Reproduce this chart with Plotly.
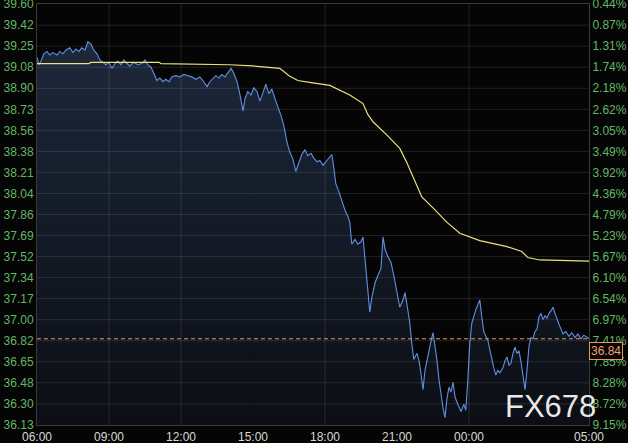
import plotly.graph_objects as go

# ---- data ----
price_times = ["06:00","06:05","06:10","06:17","06:25","06:32","06:40","06:50","06:57","07:05","07:12","07:22","07:30","07:37","07:45","07:52","08:00","08:07","08:15","08:22","08:30","08:37","08:45","08:52","09:00","09:07","09:15","09:22","09:30","09:37","09:45","09:52","10:02","10:12","10:22","10:30","10:37","10:45","10:52","11:00","11:07","11:15","11:22","11:30","11:37","11:47","11:57","12:07","12:17","12:27","12:37","12:47","12:57","13:05","13:12","13:20","13:27","13:35","13:42","13:50","13:57","14:05","14:12","14:20","14:27","14:35","14:40","14:47","14:55","15:02","15:10","15:17","15:25","15:32","15:40","15:47","15:55","16:02","16:10","16:17","16:25","16:32","16:40","16:47","16:55","17:02","17:10","17:17","17:25","17:32","17:40","17:47","17:55","18:02","18:10","18:17","18:22","18:27","18:35","18:42","18:50","18:57","19:02","19:07","19:15","19:22","19:30","19:35","19:42","19:47","19:52","19:57","20:05","20:12","20:20","20:25","20:30","20:37","20:45","20:52","21:00","21:07","21:15","21:20","21:25","21:32","21:37","21:42","21:50","21:55","22:00","22:05","22:10","22:17","22:25","22:30","22:35","22:40","22:45","22:50","22:55","23:00","23:05","23:10","23:15","23:20","23:25","23:32","23:40","23:47","23:52","23:57","00:02","00:07","00:12","00:17","00:22","00:27","00:32","00:37","00:42","00:47","00:52","00:57","01:02","01:07","01:12","01:17","01:25","01:30","01:35","01:40","01:45","01:50","01:55","02:00","02:05","02:10","02:15","02:20","02:25","02:30","02:35","02:40","02:45","02:50","02:55","03:00","03:05","03:10","03:15","03:20","03:25","03:30","03:35","03:40","03:45","03:50","03:55","04:02","04:10","04:17","04:25","04:32","04:40","04:47","04:55","05:00"]
price_values = [39.16,39.10,39.13,39.19,39.21,39.18,39.20,39.18,39.21,39.19,39.22,39.24,39.20,39.23,39.21,39.24,39.22,39.29,39.27,39.22,39.19,39.14,39.12,39.10,39.12,39.07,39.11,39.13,39.10,39.14,39.11,39.09,39.12,39.10,39.11,39.14,39.10,39.08,39.03,38.97,38.99,38.96,38.98,38.96,39.00,39.01,39.00,39.02,39.01,39.00,38.98,39.00,38.96,38.92,38.96,38.99,39.01,38.99,39.02,39.00,39.03,39.07,39.03,38.96,38.86,38.72,38.82,38.88,38.85,38.91,38.88,38.80,38.87,38.94,38.86,38.90,38.82,38.76,38.68,38.60,38.46,38.38,38.32,38.22,38.30,38.36,38.40,38.35,38.37,38.33,38.30,38.31,38.27,38.30,38.33,38.36,38.25,38.12,38.05,37.98,37.90,37.85,37.80,37.62,37.66,37.62,37.64,37.68,37.45,37.28,37.06,37.18,37.30,37.36,37.42,37.68,37.58,37.52,37.47,37.36,37.22,37.10,37.16,37.22,37.12,36.97,36.80,36.67,36.72,36.66,36.55,36.42,36.58,36.70,36.82,36.89,36.78,36.66,36.50,36.36,36.27,36.19,36.35,36.44,36.40,36.48,36.36,36.30,36.24,36.30,36.25,36.50,36.80,36.97,37.03,37.08,37.12,37.16,37.02,36.90,36.86,36.83,36.75,36.66,36.60,36.54,36.58,36.56,36.60,36.66,36.69,36.62,36.64,36.72,36.77,36.72,36.74,36.65,36.55,36.42,36.58,36.78,36.85,36.84,36.90,36.92,37.02,37.05,37.00,37.03,37.01,37.05,37.07,37.10,37.05,37.00,36.96,36.92,36.88,36.90,36.86,36.89,36.85,36.88,36.84,36.87,36.85,36.84]

avg_times = ["06:00","08:10","08:15","11:05","11:10","14:00","15:00","15:40","16:07","16:30","16:52","17:30","18:12","19:02","19:35","19:47","20:00","20:35","21:07","21:25","21:40","22:02","22:30","23:05","23:37","00:27","01:35","02:12","02:27","02:57","05:00"]
avg_values = [39.11,39.11,39.12,39.12,39.11,39.10,39.09,39.08,39.07,39.01,38.97,38.95,38.93,38.85,38.78,38.69,38.63,38.52,38.41,38.29,38.17,38.01,37.92,37.80,37.71,37.65,37.60,37.56,37.51,37.49,37.48]

left_tick_labels = ["39.60","39.42","39.25","39.08","38.90","38.73","38.56","38.38","38.21","38.04","37.86","37.69","37.52","37.34","37.17","37.00","36.82","36.65","36.48","36.30","36.13"]
right_tick_labels = ["0.44%","0.87%","1.31%","1.74%","2.18%","2.62%","3.05%","3.49%","3.92%","4.36%","4.79%","5.23%","5.67%","6.10%","6.54%","6.97%","7.41%","7.85%","8.28%","8.72%","9.15%"]
x_tick_labels = ["06:00","09:00","12:00","15:00","18:00","21:00","00:00","05:00"]
grid_x_labels = ["09:00","12:00","18:00","00:00"]

Y_TOP, Y_BOT = 39.60, 36.13
DAY1, DAY2 = "2024-03-11", "2024-03-12"


def stamp(hhmm):
    h = int(hhmm.split(":")[0])
    return (DAY2 if h < 6 else DAY1) + " " + hhmm


px = [stamp(t) for t in price_times]
ax = [stamp(t) for t in avg_times]
n = len(left_tick_labels)
tickvals = [Y_TOP - i * (Y_TOP - Y_BOT) / (n - 1) for i in range(n)]
last = price_values[-1]
yrange = [Y_BOT - 0.001, Y_TOP + 0.001]

fig = go.Figure()
fig.add_trace(go.Scatter(
    x=px, y=price_values, mode="lines",
    line=dict(color="#5f8fe0", width=1.1),
    fill="tozeroy",
    fillgradient=dict(type="vertical",
                      colorscale=[[0, "#0c0e14"], [0.5, "#131a27"], [1, "#1d283b"]],
                      start=Y_BOT, stop=39.3),
    hoverinfo="skip", showlegend=False))
fig.add_trace(go.Scatter(
    x=ax, y=avg_values, mode="lines",
    line=dict(color="#ece27c", width=1.2),
    hoverinfo="skip", showlegend=False))
fig.add_trace(go.Scatter(
    x=[px[0]], y=[Y_TOP], yaxis="y2", mode="markers",
    marker=dict(opacity=0), hoverinfo="skip", showlegend=False))

GRID = "rgba(255,255,255,0.11)"
shapes = []
for v in tickvals[1:-1]:
    shapes.append(dict(type="line", xref="paper", yref="y", x0=0, x1=1, y0=v, y1=v,
                       line=dict(color=GRID, width=1), layer="above"))
for lab in grid_x_labels:
    shapes.append(dict(type="line", xref="x", yref="paper", x0=stamp(lab), x1=stamp(lab),
                       y0=0, y1=1, line=dict(color=GRID, width=1), layer="above"))
shapes.append(dict(type="line", xref="paper", yref="y", x0=0, x1=1, y0=last, y1=last,
                   line=dict(color="#e89a5c", width=1, dash="4px,3px")))

fig.update_layout(
    width=628, height=443,
    margin=dict(l=37, r=39, t=4, b=18, autoexpand=False),
    paper_bgcolor="#050505", plot_bgcolor="#050505",
    font=dict(family="Liberation Sans, Arial, sans-serif", size=12),
    shapes=shapes,
    xaxis=dict(
        range=[stamp("06:00"), stamp("05:00")], automargin=False,
        tickvals=[stamp(t) for t in x_tick_labels], ticktext=x_tick_labels,
        tickfont=dict(color="#d8d8d8", size=12), ticklabeloverflow="allow",
        showgrid=False, zeroline=False, ticks="outside", ticklen=1, tickcolor="rgba(0,0,0,0)",
        showline=True, linecolor="#3a3a3a", mirror=True,
    ),
    yaxis=dict(
        range=yrange, tickvals=tickvals, ticktext=left_tick_labels, automargin=False,
        tickfont=dict(color="#62b862", size=12), ticklabeloverflow="allow",
        showgrid=False, zeroline=False, ticks="", showline=True, linecolor="#3a3a3a",
    ),
    yaxis2=dict(
        range=yrange, tickvals=tickvals, ticktext=right_tick_labels, automargin=False,
        tickfont=dict(color="#62b862", size=12), ticklabeloverflow="allow",
        overlaying="y", side="right", showgrid=False, zeroline=False,
        ticks="", showline=True, linecolor="#3a3a3a",
    ),
    annotations=[
        dict(xref="paper", yref="y", x=1, y=last, xanchor="left", yanchor="top",
             xshift=0, yshift=-3, text=f"{last:.2f}", showarrow=False,
             font=dict(color="#f0a070", size=12), bgcolor="#050505",
             bordercolor="#e89a5c", borderwidth=1, borderpad=1),
        dict(xref="paper", yref="paper", x=0.93, y=0.043, xanchor="center", yanchor="middle",
             text="FX678", showarrow=False,
             font=dict(color="rgba(255,255,255,0.92)", size=31,
                       family="Liberation Sans, Arial, sans-serif")),
    ],
)

fig.write_html("out.html", config={"displayModeBar": False},
               post_script="document.body.style.margin='0';document.body.style.background='#050505';")
